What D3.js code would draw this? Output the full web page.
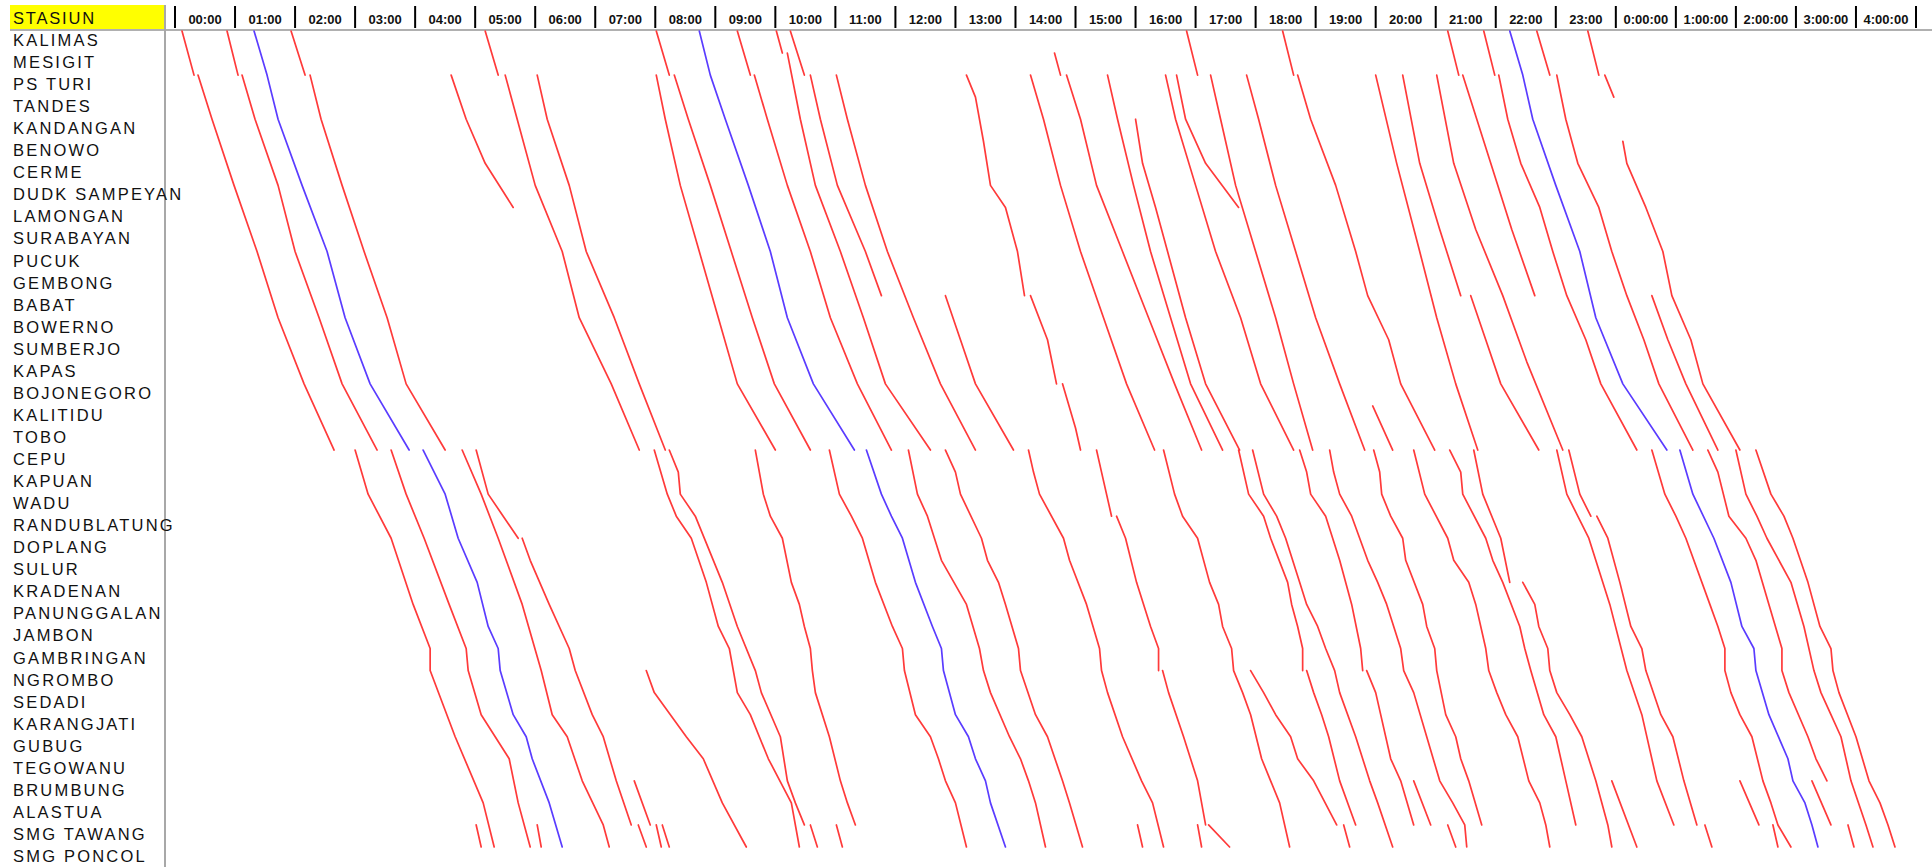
<!DOCTYPE html>
<html>
<head>
<meta charset="utf-8">
<script src="https://cdn.jsdelivr.net/npm/d3@7"></script>
<style>
  html, body { margin: 0; padding: 0; background: #ffffff; }
  svg { display: block; }
</style>
</head>
<body>
<svg id="chart" width="1932" height="867"></svg>
<script>
// Stations along the line, top to bottom
const stations = [
  "KALIMAS", "MESIGIT", "PS TURI", "TANDES", "KANDANGAN", "BENOWO", "CERME",
  "DUDK SAMPEYAN", "LAMONGAN", "SURABAYAN", "PUCUK", "GEMBONG", "BABAT",
  "BOWERNO", "SUMBERJO", "KAPAS", "BOJONEGORO", "KALITIDU", "TOBO", "CEPU",
  "KAPUAN", "WADU", "RANDUBLATUNG", "DOPLANG", "SULUR", "KRADENAN",
  "PANUNGGALAN", "JAMBON", "GAMBRINGAN", "NGROMBO", "SEDADI", "KARANGJATI",
  "GUBUG", "TEGOWANU", "BRUMBUNG", "ALASTUA", "SMG TAWANG", "SMG PONCOL"
];

// Hour columns of the header
const hourLabels = [
  "00:00", "01:00", "02:00", "03:00", "04:00", "05:00", "06:00", "07:00",
  "08:00", "09:00", "10:00", "11:00", "12:00", "13:00", "14:00", "15:00",
  "16:00", "17:00", "18:00", "19:00", "20:00", "21:00", "22:00", "23:00",
  "0:00:00", "1:00:00", "2:00:00", "3:00:00", "4:00:00"
];

// Train runs: each run is a list of [station index, minutes after 00:00]
const redRuns = [
  // Kalimas - Cepu section
  [[0,7],[2,19]],
  [[2,23],[4,37],[7,59],[10,82],[13,103],[16,129],[19,159]],
  [[0,52],[2,63]],
  [[2,67],[4,80],[7,103],[10,120],[13,144],[16,167],[19,202]],
  [[0,116],[2,130]],
  [[2,135],[4,146],[7,167],[10,189],[13,212],[16,231],[19,270]],
  [[2,276],[4,291],[6,310],[8,338]],
  [[0,310],[2,323]],
  [[2,330],[4,342],[7,360],[10,387],[13,404],[16,436],[19,464]],
  [[2,362],[4,372],[7,394],[10,411],[13,439],[16,464],[19,490]],
  [[0,481],[2,494]],
  [[2,499],[4,513],[7,535],[10,556],[13,577],[16,599],[19,635]],
  [[2,481],[4,490],[7,505],[10,524],[13,543],[16,562],[19,600]],
  [[0,562],[2,575]],
  [[2,579],[4,592],[7,612],[10,635],[13,655],[16,682],[19,716]],
  [[0,601],[1,607]],
  [[1,612],[4,625],[7,640],[10,665],[13,688],[16,710],[19,755]],
  [[0,615],[2,629]],
  [[2,635],[4,645],[7,662],[10,690],[12,706]],
  [[2,661],[4,672],[7,690],[10,712],[13,738],[16,765],[19,800]],
  [[12,770],[14,785],[16,800],[19,838]],
  [[2,791],[3,800],[5,808],[7,815],[8,830],[10,842],[12,849]],
  [[12,855],[14,872],[16,881]],
  [[16,887],[18,900],[19,905]],
  [[2,855],[4,868],[7,885],[10,905],[13,928],[16,951],[19,979]],
  [[1,879],[2,885]],
  [[2,891],[4,905],[7,921],[10,947],[13,973],[16,999],[19,1026]],
  [[2,932],[4,942],[7,958],[10,975],[13,995],[16,1015],[19,1047]],
  [[4,960],[6,967],[8,980],[10,992],[13,1010],[16,1030],[19,1064]],
  [[2,990],[4,1000],[7,1020],[10,1040],[13,1065],[16,1085],[19,1118]],
  [[2,1001],[4,1010],[6,1030],[8,1063]],
  [[0,1011],[2,1022]],
  [[2,1035],[4,1045],[7,1060],[10,1080],[13,1100],[16,1118],[19,1137]],
  [[2,1071],[4,1083],[7,1100],[10,1120],[13,1140],[16,1164],[19,1189]],
  [[0,1107],[2,1118]],
  [[2,1122],[4,1135],[7,1160],[10,1180],[12,1192],[14,1213],[16,1225],[19,1259]],
  [[17,1197],[19,1217]],
  [[2,1200],[6,1221],[10,1244],[13,1261],[16,1280],[19,1302]],
  [[2,1227],[6,1244],[9,1264],[12,1285]],
  [[2,1261],[6,1278],[9,1300],[12,1327],[15,1351],[19,1387]],
  [[0,1272],[2,1283]],
  [[2,1287],[6,1315],[9,1336],[12,1359]],
  [[12,1295],[14,1310],[16,1325],[19,1363]],
  [[0,1308],[2,1319]],
  [[2,1323],[4,1332],[6,1345],[8,1364],[10,1377],[12,1391],[14,1410],[16,1425],[19,1461]],
  [[0,1361],[2,1374]],
  [[2,1381],[4,1390],[6,1402],[8,1423],[10,1436],[12,1451],[14,1468],[16,1483],[19,1517]],
  [[5,1447],[6,1451],[8,1470],[10,1487],[12,1496],[14,1515],[16,1527],[19,1564]],
  [[12,1476],[14,1492],[16,1510],[19,1542]],
  [[0,1412],[2,1423]],
  [[2,1429],[3,1438]],
  // Cepu - Semarang section
  [[19,180],[21,193],[23,216],[26,238],[28,255],[29,255],[32,280],[35,308],[37,319]],
  [[19,216],[21,231],[23,249],[26,274],[28,291],[29,293],[31,306],[33,334],[35,343],[37,355]],
  [[19,287],[21,306],[23,323],[26,347],[29,366],[31,377],[32,392],[34,407],[36,428],[37,434]],
  [[19,301],[21,313],[22,328],[23,343]],
  [[23,347],[24,355],[26,374],[28,394],[29,400],[31,417],[32,428],[34,441],[36,456]],
  [[19,479],[21,492],[22,501],[23,516],[25,531],[27,543],[28,554],[30,562],[31,575],[33,593],[35,616],[37,624]],
  [[19,494],[20,503],[21,505],[22,520],[25,547],[27,562],[29,580],[30,586],[32,605],[34,612],[35,620],[36,629]],
  [[29,471],[30,479],[32,511],[33,528],[35,547],[37,571]],
  [[19,580],[21,588],[22,595],[23,607],[25,616],[26,624],[27,629],[28,635],[29,637],[30,640],[32,654],[34,665],[35,672],[36,680]],
  [[19,654],[21,664],[22,676],[23,687],[25,700],[27,717],[28,727],[29,729],[31,740],[32,755],[33,763],[34,770],[35,780],[37,791]],
  [[19,733],[21,742],[22,752],[24,766],[26,791],[28,804],[29,808],[30,815],[32,834],[33,845],[34,853],[35,860],[37,870]],
  [[19,770],[20,780],[21,785],[23,806],[24,812],[25,823],[26,830],[28,843],[29,845],[31,860],[32,872],[34,887],[35,894],[37,907]],
  [[19,853],[20,858],[21,864],[23,888],[24,894],[26,911],[28,924],[29,926],[30,932],[32,947],[34,966],[35,977],[37,988]],
  [[19,921],[20,926],[22,936]],
  [[22,941],[23,950],[25,961],[27,975],[28,983],[29,983]],
  [[29,987],[30,993],[32,1008],[34,1022],[36,1030]],
  [[19,988],[21,999],[22,1007],[23,1022],[25,1034],[26,1043],[27,1047],[28,1056],[29,1058],[30,1067],[31,1075],[33,1086],[34,1095],[35,1104],[37,1114]],
  [[29,1075],[30,1088],[31,1100],[32,1115],[33,1122],[34,1138],[36,1161]],
  [[19,1063],[21,1073],[22,1088],[23,1095],[25,1112],[26,1116],[27,1122],[28,1127],[29,1127]],
  [[29,1131],[30,1138],[31,1146],[32,1153],[34,1164],[36,1180]],
  [[19,1077],[21,1088],[22,1101],[23,1110],[25,1124],[26,1131],[27,1142],[28,1150],[29,1159],[30,1164],[32,1180],[34,1194],[35,1202],[37,1217]],
  [[19,1124],[20,1131],[21,1135],[22,1150],[24,1164],[26,1176],[28,1185],[29,1187]],
  [[29,1191],[30,1200],[31,1205],[33,1215],[34,1225],[36,1238]],
  [[19,1154],[20,1158],[21,1164],[22,1176],[24,1192],[25,1202],[26,1211],[28,1225],[29,1228],[30,1238],[32,1251],[34,1264],[35,1277],[36,1289],[37,1291]],
  [[19,1198],[20,1204],[21,1206],[22,1215],[23,1227],[24,1230],[26,1247],[27,1251],[28,1259],[29,1261],[31,1270],[32,1280],[33,1285],[34,1293],[36,1306]],
  [[19,1238],[21,1249],[23,1272],[24,1278],[25,1293],[26,1300],[28,1310],[29,1313],[30,1321],[31,1330],[32,1342],[34,1353],[35,1364],[36,1370],[37,1374]],
  [[19,1274],[20,1285],[21,1287],[23,1310],[24,1317],[25,1327],[27,1344],[28,1349],[29,1355],[31,1368],[32,1380],[34,1390],[36,1400]],
  [[19,1298],[21,1307],[23,1325],[25,1334]],
  [[25,1347],[26,1359],[27,1363],[28,1372],[29,1374],[30,1381],[31,1394],[32,1406],[34,1420],[36,1432],[37,1436]],
  [[19,1381],[21,1391],[23,1413],[26,1434],[29,1451],[31,1466],[34,1481],[36,1498]],
  [[19,1393],[21,1404],[22,1415]],
  [[22,1421],[23,1432],[25,1444],[27,1455],[28,1466],[29,1470],[31,1485],[32,1497],[34,1508],[36,1521]],
  [[19,1476],[21,1489],[22,1500],[23,1510],[26,1534],[27,1542],[28,1549],[29,1549],[30,1555],[31,1564],[32,1576],[34,1587],[35,1595],[36,1602],[37,1615]],
  [[19,1532],[20,1542],[22,1553],[23,1570],[24,1580],[26,1593],[28,1606],[29,1606],[30,1613],[32,1632],[33,1640],[34,1651]],
  [[19,1560],[21,1570],[22,1581],[23,1591],[25,1615],[27,1628],[29,1638],[30,1645],[31,1655],[32,1665],[34,1675],[36,1690],[37,1697]],
  [[19,1580],[21,1595],[22,1608],[23,1617],[25,1632],[27,1644],[28,1655],[29,1657],[30,1663],[32,1680],[34,1693],[35,1704],[36,1712],[37,1719]],
  // short runs into Semarang
  [[36,301],[37,306]],
  [[36,362],[37,366]],
  [[34,459],[36,475]],
  [[36,463],[37,471]],
  [[36,481],[37,486]],
  [[36,487],[37,494]],
  [[36,635],[37,642]],
  [[36,661],[37,667]],
  [[36,962],[37,967]],
  [[36,1022],[37,1026]],
  [[36,1033],[37,1054]],
  [[36,1168],[37,1174]],
  [[34,1238],[36,1255]],
  [[36,1272],[37,1280]],
  [[34,1436],[37,1461]],
  [[36,1529],[37,1536]],
  [[34,1564],[36,1583]],
  [[36,1597],[37,1602]],
  [[34,1636],[36,1655]],
  [[36,1672],[37,1678]]
];

const blueRuns = [
  [[0,79],[2,92],[4,103],[7,127],[10,152],[13,170],[16,195],[19,234]],
  [[0,524],[2,535],[4,550],[7,573],[10,595],[13,612],[16,638],[19,679]],
  [[0,1334],[2,1347],[4,1357],[7,1380],[10,1404],[13,1420],[16,1447],[19,1491]],
  [[19,248],[21,270],[23,283],[25,302],[27,313],[28,323],[29,325],[31,338],[32,351],[33,357],[35,374],[37,387]],
  [[19,691],[21,706],[22,716],[23,727],[25,740],[27,757],[28,766],[29,768],[31,780],[32,793],[33,800],[34,810],[35,815],[37,830]],
  [[19,1504],[21,1517],[23,1538],[25,1555],[27,1566],[28,1578],[29,1580],[31,1593],[33,1612],[34,1617],[35,1629],[36,1636],[37,1642]]
];

const svg = d3.select("#chart");

// time (minutes) -> x, station -> y
const x = d3.scaleLinear().domain([0, hourLabels.length * 60]).range([175, 1916]);
const y = d3.scalePoint().domain(stations).range([31, 847]);
const col = d3.scaleBand().domain(hourLabels).range([175, 1916]).paddingInner(0);

const labelFont = "'Liberation Sans', Arial, sans-serif";

// header cell
svg.append("rect")
  .attr("x", 10).attr("y", 5).attr("width", 154).attr("height", 24)
  .attr("fill", "#ffff00");
svg.append("text")
  .attr("x", 13).attr("y", 24)
  .attr("font-family", labelFont)
  .attr("font-size", 16.5).attr("letter-spacing", "1.8px")
  .attr("fill", "#111").text("STASIUN");

// header rule and station axis
svg.append("line")
  .attr("x1", 10).attr("x2", 1932).attr("y1", 30).attr("y2", 30)
  .attr("stroke", "#b0b0b0").attr("stroke-width", 2);
svg.append("line")
  .attr("x1", 165).attr("x2", 165).attr("y1", 5).attr("y2", 867)
  .attr("stroke", "#a8a8a8").attr("stroke-width", 2);

// hour dividers and labels
const header = svg.append("g");
header.selectAll("line.div")
  .data(d3.range(hourLabels.length + 1))
  .join("line")
  .attr("class", "div")
  .attr("x1", i => x(i * 60)).attr("x2", i => x(i * 60))
  .attr("y1", 6).attr("y2", 28)
  .attr("stroke", "#000").attr("stroke-width", 2);
header.selectAll("text")
  .data(hourLabels)
  .join("text")
  .attr("x", d => col(d) + col.bandwidth() / 2)
  .attr("y", 24)
  .attr("text-anchor", "middle")
  .attr("font-family", labelFont)
  .attr("font-weight", "bold")
  .attr("font-size", 13)
  .attr("fill", "#111")
  .text(d => d);

// station names
svg.append("g").selectAll("text")
  .data(stations)
  .join("text")
  .attr("x", 13)
  .attr("y", d => y(d) + 15)
  .attr("font-family", labelFont)
  .attr("font-size", 16.5)
  .attr("letter-spacing", "2.2px")
  .attr("fill", "#111")
  .text(d => d);

// train paths
const path = d3.line()
  .x(p => x(p[1]))
  .y(p => y(stations[p[0]]));

const plot = svg.append("g").attr("fill", "none")
  .attr("stroke-width", 1.7).attr("stroke-linejoin", "round").attr("stroke-linecap", "round");

plot.selectAll("path.red")
  .data(redRuns)
  .join("path")
  .attr("class", "red")
  .attr("stroke", "#ff3a3a")
  .attr("d", path);

plot.selectAll("path.blue")
  .data(blueRuns)
  .join("path")
  .attr("class", "blue")
  .attr("stroke", "#5a3cff")
  .attr("d", path);
</script>
</body>
</html>
